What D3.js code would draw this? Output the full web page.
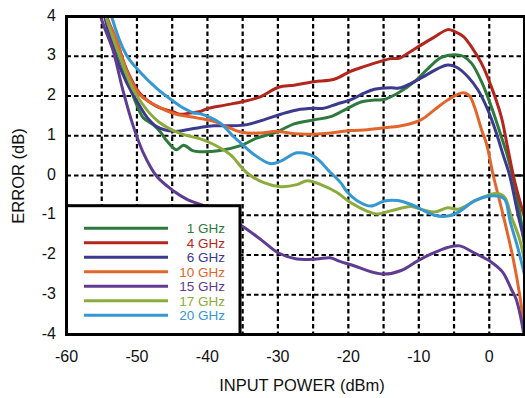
<!DOCTYPE html>
<html>
<head>
<meta charset="utf-8">
<script src="https://cdn.jsdelivr.net/npm/d3@7"></script>
<style>
  html, body { margin: 0; padding: 0; background: #fff; }
  svg { display: block; font-family: "Liberation Sans", Arial, Helvetica, sans-serif; }
</style>
</head>
<body>
<svg id="chart" width="525" height="398"></svg>
<script>
// Axis ticks
const xTicks = [-60, -50, -40, -30, -20, -10, 0];
const yTicks = [4, 3, 2, 1, 0, -1, -2, -3, -4];
const xGrid = [-55, -50, -45, -40, -35, -30, -25, -20, -15, -10, -5, 0];
const yGrid = [3, 2, 1, 0, -1, -2, -3];

// Series names and colours
const seriesNames = ["1 GHz", "4 GHz", "6 GHz", "10 GHz", "15 GHz", "17 GHz", "20 GHz"];
const seriesColors = ["#2e7a3c", "#b3261e", "#3b3a8e", "#e2662c", "#5f3c91", "#8cab3c", "#3598d2"];

// Error (dB) versus input power (dBm), one array per frequency
const err1GHz = [[-55.3,4.6],[-54.4,4.0],[-53.0,3.2],[-52.0,2.73],[-50.5,1.98],[-49.6,1.6],[-49.1,1.45],[-47.7,1.28],[-46.7,1.1],[-45.8,0.88],[-44.4,0.65],[-43.4,0.76],[-42.0,0.62],[-41.0,0.6],[-38.2,0.63],[-35.3,0.75],[-33.0,0.94],[-30.1,1.1],[-27.7,1.3],[-24.9,1.4],[-22.5,1.48],[-20.1,1.69],[-18.2,1.85],[-16.3,1.9],[-15.0,1.91],[-13.0,2.07],[-10.6,2.36],[-8.7,2.69],[-6.8,2.97],[-4.9,3.04],[-3.7,3.0],[-2.5,2.82],[-1.1,2.36],[0.3,1.73],[1.7,0.98],[2.4,0.6],[3.3,0.0],[4.3,-0.9],[5,-1.8]];
const err4GHz = [[-55.1,4.6],[-54.3,4.0],[-52.9,3.4],[-51.5,2.68],[-49.6,2.07],[-47.2,1.74],[-44.8,1.6],[-43.9,1.54],[-42.5,1.57],[-41.0,1.61],[-39.9,1.69],[-37.5,1.77],[-34.9,1.86],[-32.5,1.98],[-29.9,2.22],[-27.7,2.27],[-24.9,2.36],[-22.0,2.42],[-19.7,2.62],[-17.8,2.74],[-15.4,2.87],[-14.0,2.94],[-12.8,2.95],[-11.6,3.07],[-9.7,3.28],[-7.8,3.48],[-5.9,3.67],[-4.9,3.62],[-3.7,3.5],[-2.5,3.23],[-1.1,2.82],[0.3,2.23],[1.7,1.48],[2.5,0.8],[3.65,-0.18],[5,-1.05]];
const err6GHz = [[-55.2,4.6],[-54.6,4.0],[-53.0,3.0],[-51.5,2.35],[-49.6,1.75],[-48.5,1.45],[-47.2,1.23],[-44.8,1.11],[-42.9,1.15],[-41.0,1.21],[-39.1,1.25],[-36.8,1.25],[-34.4,1.28],[-32.0,1.4],[-29.6,1.54],[-27.3,1.65],[-24.9,1.69],[-23.5,1.69],[-21.6,1.8],[-19.7,1.9],[-17.8,2.07],[-16.3,2.17],[-14.0,2.21],[-12.8,2.2],[-11.1,2.32],[-9.2,2.5],[-7.3,2.69],[-5.9,2.78],[-4.7,2.73],[-3.0,2.48],[-1.6,2.15],[-0.2,1.65],[1.0,1.07],[2.0,0.5],[2.9,0.0],[4.1,-1.0],[5,-1.65]];
const err10GHz = [[-55.1,4.6],[-54.4,4.0],[-52.9,3.4],[-51.5,2.65],[-49.6,2.03],[-47.2,1.75],[-44.8,1.56],[-41.5,1.45],[-39.1,1.36],[-36.8,1.19],[-34.9,1.08],[-32.5,1.07],[-30.1,1.11],[-27.7,1.05],[-24.9,1.04],[-22.5,1.07],[-19.7,1.13],[-17.3,1.15],[-15.4,1.19],[-12.5,1.25],[-9.7,1.4],[-7.8,1.65],[-5.9,1.9],[-3.7,2.08],[-2.8,2.0],[-2.1,1.73],[-1.1,1.15],[-0.4,0.8],[0.57,0.0],[2.0,-1.02],[3.4,-2.1],[4.36,-3.05],[5,-3.9]];
const err15GHz = [[-56.0,4.8],[-55.15,4.0],[-53.4,3.15],[-52.0,2.15],[-50.5,1.23],[-49.1,0.57],[-47.2,-0.02],[-44.8,-0.39],[-42.9,-0.6],[-41.0,-0.73],[-39.1,-0.85],[-35.1,-1.27],[-32.5,-1.6],[-29.9,-1.95],[-27.3,-2.1],[-24.5,-2.1],[-22.6,-2.07],[-21.2,-2.16],[-19.2,-2.27],[-16.8,-2.42],[-14.9,-2.48],[-12.5,-2.39],[-10.1,-2.14],[-8.3,-1.98],[-5.9,-1.81],[-4.2,-1.77],[-2.1,-1.95],[0.3,-2.18],[1.9,-2.43],[3.1,-2.85],[3.8,-3.1],[4.5,-3.6],[5,-4.1]];
const err17GHz = [[-55.2,4.6],[-54.4,4.0],[-52.4,2.98],[-50.5,2.15],[-48.6,1.65],[-46.7,1.32],[-43.9,1.06],[-41.0,0.92],[-39.1,0.78],[-36.8,0.53],[-34.4,0.07],[-32.0,-0.18],[-29.6,-0.28],[-27.3,-0.23],[-25.8,-0.13],[-23.9,-0.23],[-21.6,-0.43],[-19.7,-0.68],[-17.3,-0.9],[-16.0,-0.97],[-14.0,-0.89],[-11.1,-0.78],[-9.7,-0.85],[-7.8,-0.92],[-5.9,-0.81],[-4.4,-0.85],[-2.1,-0.64],[-0.5,-0.52],[1.2,-0.45],[2.2,-0.55],[3.1,-1.02],[4.3,-1.6],[5,-2.15]];
const err20GHz = [[-54.3,4.6],[-53.6,4.0],[-51.5,3.03],[-49.6,2.61],[-47.2,2.19],[-44.8,1.86],[-43.9,1.75],[-42.9,1.65],[-42.0,1.58],[-41.0,1.55],[-40.1,1.5],[-38.2,1.32],[-37.2,1.15],[-36.3,0.98],[-35.3,0.82],[-33.4,0.53],[-31.1,0.3],[-29.6,0.36],[-27.3,0.57],[-24.9,0.48],[-22.5,0.07],[-21.1,-0.18],[-20.1,-0.43],[-18.7,-0.64],[-16.8,-0.77],[-14.9,-0.64],[-13.0,-0.63],[-11.1,-0.73],[-9.2,-0.89],[-7.8,-1.0],[-5.9,-1.02],[-4.4,-0.92],[-2.1,-0.64],[-0.2,-0.52],[1.3,-0.52],[2.2,-0.6],[3.0,-1.18],[4.1,-1.85],[5,-2.5]];

const seriesData = [err1GHz, err4GHz, err6GHz, err10GHz, err15GHz, err17GHz, err20GHz];

const svg = d3.select("#chart");
const plotL = 66.5, plotR = 524.5, plotT = 16.5, plotB = 334.5;

const x = d3.scaleLinear().domain([-60, 5]).range([plotL, plotR]);
const y = d3.scaleLinear().domain([-4, 4]).range([plotB, plotT]);

svg.append("defs").append("clipPath").attr("id", "plotClip")
  .append("rect").attr("x", plotL).attr("y", plotT)
  .attr("width", plotR - plotL).attr("height", plotB - plotT);

// Dashed grid
const grid = svg.append("g").attr("stroke", "#000").attr("stroke-width", 2.2)
  .attr("stroke-dasharray", "4.5,3");
grid.selectAll("line.v").data(xGrid).join("line").attr("class", "v")
  .attr("x1", d => x(d)).attr("x2", d => x(d)).attr("y1", plotT).attr("y2", plotB);
grid.selectAll("line.h").data(yGrid).join("line").attr("class", "h")
  .attr("x1", plotL).attr("x2", plotR).attr("y1", d => y(d)).attr("y2", d => y(d));

// Short solid reference mark at 0 dB on the right edge
svg.append("line").attr("x1", plotR - 13).attr("x2", plotR)
  .attr("y1", y(0)).attr("y2", y(0)).attr("stroke", "#000").attr("stroke-width", 2.2);

// Curves
const line = d3.line().x(d => x(d[0])).y(d => y(d[1])).curve(d3.curveCatmullRom.alpha(0.5));
const curves = svg.append("g").attr("clip-path", "url(#plotClip)");
curves.selectAll("path").data(seriesData).join("path")
  .attr("d", line)
  .attr("fill", "none")
  .attr("stroke", (d, i) => seriesColors[i])
  .attr("stroke-width", 3)
  .attr("stroke-linejoin", "round")
  .attr("stroke-linecap", "round");

// Legend
const legTop = 205.7, legRight = 240;
const legend = svg.append("g");
legend.append("rect").attr("x", plotL).attr("y", legTop)
  .attr("width", legRight - plotL).attr("height", plotB - legTop)
  .attr("fill", "#fff").attr("stroke", "#000").attr("stroke-width", 3);
const rowY = i => 228.3 + i * 14.5;
legend.selectAll("line").data(seriesNames).join("line")
  .attr("x1", 84).attr("x2", 168)
  .attr("y1", (d, i) => rowY(i)).attr("y2", (d, i) => rowY(i))
  .attr("stroke", (d, i) => seriesColors[i]).attr("stroke-width", 3);
legend.selectAll("text").data(seriesNames).join("text")
  .attr("x", 225).attr("y", (d, i) => rowY(i) + 4.8)
  .attr("text-anchor", "end").attr("font-size", 13.5)
  .attr("fill", (d, i) => seriesColors[i])
  .text(d => d);

// Plot frame
svg.append("rect").attr("x", plotL).attr("y", plotT)
  .attr("width", plotR - plotL).attr("height", plotB - plotT)
  .attr("fill", "none").attr("stroke", "#000").attr("stroke-width", 3);

// Tick labels
svg.append("g").selectAll("text").data(xTicks).join("text")
  .attr("x", d => x(d)).attr("y", 362)
  .attr("text-anchor", "middle").attr("font-size", 16).attr("fill", "#111")
  .text(d => d);
svg.append("g").selectAll("text").data(yTicks).join("text")
  .attr("x", 56).attr("y", d => y(d) + 4)
  .attr("text-anchor", "end").attr("font-size", 16).attr("fill", "#111")
  .text(d => d);

// Axis titles
svg.append("text").attr("x", 302).attr("y", 391)
  .attr("text-anchor", "middle").attr("font-size", 16.5).attr("fill", "#111")
  .text("INPUT POWER (dBm)");
svg.append("text")
  .attr("transform", "translate(24,176) rotate(-90)")
  .attr("text-anchor", "middle").attr("font-size", 16.5).attr("fill", "#111")
  .text("ERROR (dB)");
</script>
</body>
</html>
